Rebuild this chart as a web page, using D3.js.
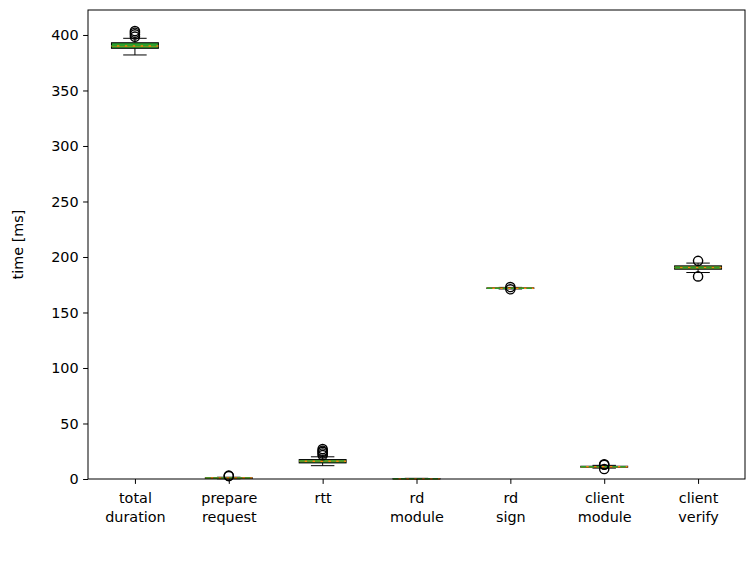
<!DOCTYPE html>
<html>
<head>
<meta charset="utf-8">
<script src="https://cdn.jsdelivr.net/npm/d3@7"></script>
<style>
  body { margin: 0; background: #fff; }
  svg { display: block; font-family: "DejaVu Sans", sans-serif; }
</style>
</head>
<body>
<svg id="chart" width="747" height="561"></svg>
<script>
// Timing phases (two-line tick labels)
const categories = [
  ["total", "duration"],
  ["prepare", "request"],
  ["rtt"],
  ["rd", "module"],
  ["rd", "sign"],
  ["client", "module"],
  ["client", "verify"]
];
// Box statistics per phase, in ms
const whiskerLow  = [382,   0.2, 12.0, 0.1, 171.2,  9.8, 186.0];
const q1          = [388.0, 0.5, 14.5, 0.2, 171.6, 10.6, 189.0];
const median      = [390.0, 0.8, 16.0, 0.3, 171.9, 11.0, 190.5];
const mean        = [390.4, 0.9, 16.3, 0.3, 171.9, 11.1, 190.6];
const q3          = [393.0, 1.1, 17.5, 0.4, 172.2, 11.5, 192.0];
const whiskerHigh = [397.0, 1.6, 20.0, 0.6, 172.6, 12.3, 194.5];
const outliers = [
  [398.5, 400.5, 402.0, 403.5],
  [2.6, 3.0],
  [21.5, 23.0, 24.5, 25.5, 27.0],
  [],
  [170.9, 172.9],
  [9.0, 12.8, 13.2],
  [182.5, 196.5]
];
const yTicks = [0, 50, 100, 150, 200, 250, 300, 350, 400];
const yLabel = "time [ms]";

const svg = d3.select("#chart");
const margin = { left: 88, top: 10, right: 2, bottom: 82 };
const W = 747, H = 561;
const plotW = W - margin.left - margin.right;
const plotH = H - margin.top - margin.bottom;
const fontSize = 14.4;

const x = d3.scaleLinear().domain([0.5, categories.length + 0.5]).range([0, plotW]);
const y = d3.scaleLinear().domain([0, 422.5]).range([plotH, 0]);

const g = svg.append("g").attr("transform", `translate(${margin.left},${margin.top})`);

const boxW = x(1.25) - x(0.75);
const capW = x(1.125) - x(0.875);

const boxes = g.append("g").selectAll("g").data(categories.map((c, i) => i)).join("g");

boxes.each(function(i) {
  const sel = d3.select(this);
  const cx = x(i + 1);
  // whiskers
  sel.append("line").attr("x1", cx).attr("x2", cx)
    .attr("y1", y(whiskerLow[i])).attr("y2", y(q1[i]))
    .attr("stroke", "#000").attr("stroke-width", 1);
  sel.append("line").attr("x1", cx).attr("x2", cx)
    .attr("y1", y(q3[i])).attr("y2", y(whiskerHigh[i]))
    .attr("stroke", "#000").attr("stroke-width", 1);
  [whiskerLow[i], whiskerHigh[i]].forEach(v => {
    sel.append("line").attr("x1", cx - capW / 2).attr("x2", cx + capW / 2)
      .attr("y1", y(v)).attr("y2", y(v))
      .attr("stroke", "#000").attr("stroke-width", 1);
  });
  // box
  const top = y(q3[i]), bot = y(q1[i]);
  sel.append("rect").attr("x", cx - boxW / 2).attr("width", boxW)
    .attr("y", top).attr("height", Math.max(bot - top, 0.5))
    .attr("fill", "#2ca02c").attr("stroke", "#000").attr("stroke-width", 1);
  // median
  sel.append("line").attr("x1", cx - boxW / 2).attr("x2", cx + boxW / 2)
    .attr("y1", y(median[i])).attr("y2", y(median[i]))
    .attr("stroke", "#ff7f0e").attr("stroke-width", 1.5);
  // mean (dashed)
  sel.append("line").attr("x1", cx - boxW / 2).attr("x2", cx + boxW / 2)
    .attr("y1", y(mean[i])).attr("y2", y(mean[i]))
    .attr("stroke", "#2ca02c").attr("stroke-width", 1.5)
    .attr("stroke-dasharray", "5.5,2.4");
  // fliers
  sel.selectAll("circle").data(outliers[i]).join("circle")
    .attr("cx", cx).attr("cy", d => y(d)).attr("r", 4.6)
    .attr("fill", "none").attr("stroke", "#000").attr("stroke-width", 1.4);
});

// axes
const yAxis = d3.axisLeft(y).tickValues(yTicks).tickSize(4.9).tickPadding(4.5);
const yg = g.append("g").call(yAxis);
yg.select(".domain").remove();
yg.selectAll("text").attr("font-size", fontSize).attr("fill", "#000").attr("font-family", "DejaVu Sans");
yg.selectAll("line").attr("stroke", "#000");

const xAxis = d3.axisBottom(x).tickValues(d3.range(1, categories.length + 1))
  .tickSize(4.9).tickFormat("");
const xg = g.append("g").attr("transform", `translate(0,${plotH})`).call(xAxis);
xg.select(".domain").remove();
xg.selectAll("line").attr("stroke", "#000");
xg.selectAll(".tick").each(function(d) {
  const t = d3.select(this).append("text")
    .attr("fill", "#000").attr("font-size", fontSize).attr("text-anchor", "middle")
    .attr("font-family", "DejaVu Sans");
  categories[d - 1].forEach((line, k) => {
    t.append("tspan").attr("x", 0).attr("y", 24 + k * 19).text(line);
  });
});

// frame
g.append("rect").attr("x", 0).attr("y", 0).attr("width", plotW).attr("height", plotH)
  .attr("fill", "none").attr("stroke", "#000").attr("stroke-width", 1);

// y-axis label
svg.append("text")
  .attr("transform", `translate(23,${margin.top + plotH / 2}) rotate(-90)`)
  .attr("text-anchor", "middle").attr("font-size", fontSize).attr("fill", "#000")
  .text(yLabel);
</script>
</body>
</html>
